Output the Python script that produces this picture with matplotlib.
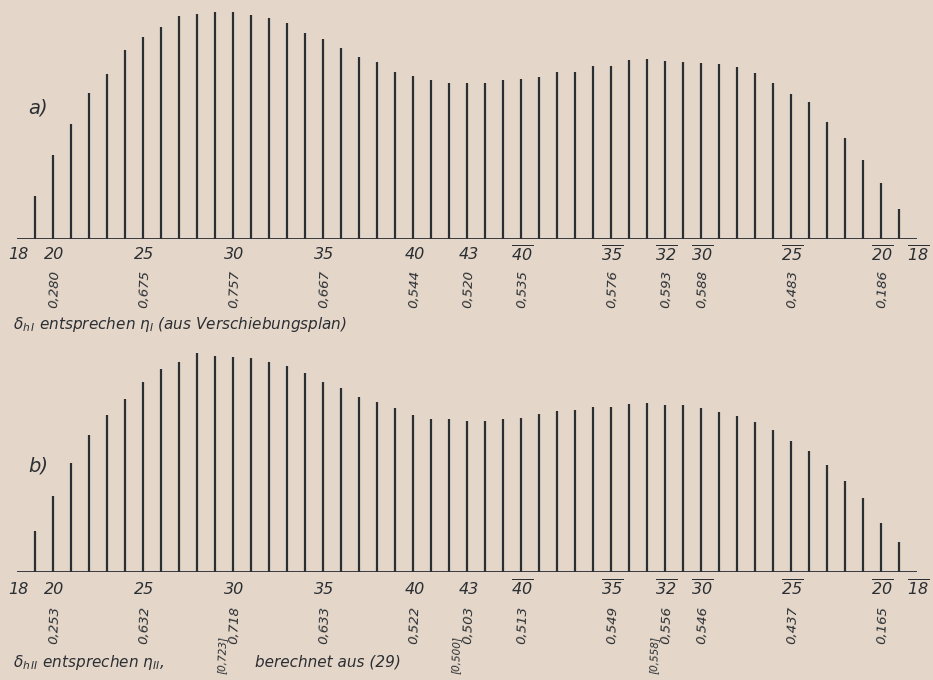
import matplotlib
matplotlib.use("Agg")
import matplotlib.pyplot as plt

# stations along the span: 19..43, then the mirrored half 42..19
stations = list(range(19, 44)) + list(range(42, 18, -1))

# delta_h values, case a) (aus Verschiebungsplan)
delta_a = [0.143, 0.280, 0.382, 0.486, 0.550, 0.630, 0.675, 0.708, 0.744, 0.750,
           0.758, 0.757, 0.747, 0.738, 0.719, 0.688, 0.667, 0.636, 0.608, 0.591,
           0.558, 0.544, 0.530, 0.521, 0.520,
           0.521, 0.530, 0.535, 0.541, 0.558, 0.558, 0.577, 0.576, 0.597, 0.600,
           0.593, 0.589, 0.588, 0.583, 0.572, 0.552, 0.519, 0.483, 0.458, 0.391,
           0.336, 0.263, 0.186, 0.100]

# case b) (berechnet aus (29))
delta_b = [0.137, 0.253, 0.362, 0.457, 0.522, 0.577, 0.632, 0.676, 0.699, 0.731,
           0.721, 0.718, 0.712, 0.701, 0.686, 0.662, 0.633, 0.612, 0.584, 0.568,
           0.546, 0.522, 0.511, 0.509, 0.503,
           0.503, 0.511, 0.513, 0.527, 0.537, 0.540, 0.549, 0.549, 0.560, 0.564,
           0.556, 0.557, 0.546, 0.533, 0.520, 0.500, 0.473, 0.437, 0.403, 0.356,
           0.302, 0.247, 0.165, 0.101]

# axis ticks: station number, mirrored half gets an overline
tick_station = [18, 20, 25, 30, 35, 40, 43, 40, 35, 32, 30, 25, 20, 18]
tick_mirror = [False] * 7 + [True] * 7

# printed values under the axis (same stations as the inner ticks)
text_a = ["0,280", "0,675", "0,757", "0,667", "0,544", "0,520",
          "0,535", "0,576", "0,593", "0,588", "0,483", "0,186"]
text_b = ["0,253", "0,632", "0,718", "0,633", "0,522", "0,503",
          "0,513", "0,549", "0,556", "0,546", "0,437", "0,165"]
# bracketed values in b), by tick index
bracket_b = {3: "[0,723]", 6: "[0,500]", 9: "[0,558]"}

BG = "#e4d7c9"
INK = "#2b2e33"

plt.rcParams["font.family"] = "DejaVu Sans"
plt.rcParams["font.style"] = "italic"
plt.rcParams["mathtext.fontset"] = "custom"
plt.rcParams["mathtext.rm"] = "DejaVu Sans:italic"
plt.rcParams["mathtext.it"] = "DejaVu Sans:italic"
plt.rcParams["mathtext.bf"] = "DejaVu Sans:italic:bold"


def pos(st, mirrored):
    return (68 - st) if mirrored else (st - 18)


x = [pos(s, i >= 25) for i, s in enumerate(stations)]
tick_x = [pos(s, m) for s, m in zip(tick_station, tick_mirror)]
tick_lab = [(r"$\overline{%d}$" % s) if m else str(s) for s, m in zip(tick_station, tick_mirror)]

W, H = 933, 680
fig = plt.figure(figsize=(W / 100, H / 100), dpi=100)
fig.patch.set_facecolor(BG)

YMAX = 0.79


def panel(base_px, values, texts, val_off, tick_off, brackets=None):
    ax = fig.add_axes([17 / W, (H - base_px) / H, 900 / W, YMAX * 300 / H])
    ax.set_xlim(0, 50)
    ax.set_ylim(0, YMAX)
    ax.axis("off")
    ax.vlines(x, 0, values, color=INK, linewidth=1.6)
    ax.axhline(0, color=INK, linewidth=1.3)
    for tx, tl in zip(tick_x, tick_lab):
        ax.annotate(tl, xy=(tx, 0), xytext=(1, -tick_off), textcoords="offset points",
                    ha="center", va="center", fontsize=11.5, color=INK,
                    annotation_clip=False)
    for tx, vt in zip(tick_x[1:-1], texts):
        ax.annotate(vt, xy=(tx, 0), xytext=(1, -val_off), textcoords="offset points",
                    ha="center", va="center", rotation=88, fontsize=9.5, color=INK,
                    annotation_clip=False)
    if brackets:
        # bracketed values sit just left of and below the printed label
        for k, bt in brackets.items():
            ax.annotate(bt, xy=(tick_x[k], 0), xytext=(-8, -val_off - 8),
                        textcoords="offset points", ha="center", va="top",
                        rotation=88, fontsize=7.5, color=INK, annotation_clip=False)
    return ax


ax_a = panel(239, delta_a, text_a, 36, 11.5)
ax_b = panel(572, delta_b, text_b, 38, 12.5, bracket_b)

fig.text(28 / W, 1 - 108 / H, "a)", fontsize=14, color=INK, ha="left", va="center")
fig.text(28 / W, 1 - 466 / H, "b)", fontsize=14, color=INK, ha="left", va="center")

fig.text(13 / W, 1 - 324 / H,
         r"$\delta_{h\,I}$ entsprechen $\eta_{I}$ (aus Verschiebungsplan)",
         fontsize=11, color=INK, ha="left", va="center")
fig.text(13 / W, 1 - 662 / H, r"$\delta_{h\,II}$ entsprechen $\eta_{II}$,",
         fontsize=11, color=INK, ha="left", va="center")
fig.text(255 / W, 1 - 662 / H, "berechnet aus (29)",
         fontsize=11, color=INK, ha="left", va="center")

fig.savefig("out.png", dpi=100, facecolor=BG)
